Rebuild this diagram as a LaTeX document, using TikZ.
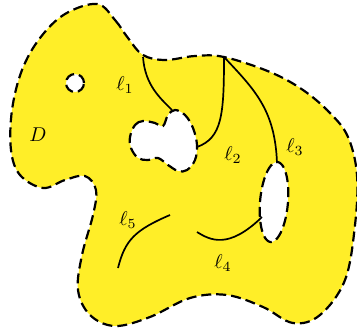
\documentclass[tikz,border=0pt]{standalone}
\definecolor{fillyellow}{RGB}{255,238,40}
\begin{document}
\begin{tikzpicture}[x=0.5pt,y=-0.5pt,
  region/.style={fill=fillyellow, even odd rule, draw=black, line width=1.1pt, dash pattern=on 5pt off 2.5pt},
  curve/.style={draw=black, line width=0.85pt},
  lab/.style={inner sep=0pt, font=\normalsize}]
\useasboundingbox (0,0) rectangle (357,332);
\path[region]
  plot[smooth cycle, tension=0.6] coordinates {
    (97,4) (115,20) (128,38) (143,55) (165,60) (195,56) (224,57)
    (270,72) (303,90) (330,113) (348,137) (357,175) (355,225)
    (345,280) (320,315) (293,323) (263,307) (227,295) (190,298)
    (150,317) (115,326) (90,315) (78,290) (82,255) (93,215)
    (96,190) (85,176) (65,180) (43,188) (20,175) (11,150)
    (12,110) (22,70) (40,38) (65,14)}
  (75,83) circle[radius=4.5pt]
  plot[smooth cycle, tension=0.6] coordinates {
    (130,137) (135,125) (143,121) (155,123) (163,126) (168,115)
    (175,110) (185,115) (193,128) (197,145) (195,160) (187,170)
    (178,171) (168,165) (158,158) (148,160) (138,158) (131,148)}
  plot[domain=0:355, samples=72, variable=\t]
    ({274+14*cos(\t)-3*sin(\t)},{202+40*sin(\t)}) -- cycle;
\coordinate (top) at (224,57);
\coordinate (l1s) at (143,57);
\coordinate (l1e) at (172,110);
\coordinate (l2e) at (197,147);
\coordinate (l3e) at (277,163);
\coordinate (l4s) at (197,232);
\coordinate (l4e) at (262,217);
\coordinate (l5s) at (118,268);
\coordinate (l5e) at (170,215);
\draw[curve] (l1s) .. controls (145,85) and (160,98) .. (l1e);
\draw[curve] (top) .. controls (224,115) and (222,138) .. (l2e);
\draw[curve] (top) .. controls (255,90) and (275,110) .. (l3e);
\draw[curve] (l4s) .. controls (210,240) and (228,250) .. (l4e);
\draw[curve] (l5s) .. controls (125,240) and (135,230) .. (l5e);
\node[lab] (D) at (38,135) {$D$};
\node[lab] (t1) at (125,85) {$\ell_1$};
\node[lab] (t2) at (233,155) {$\ell_2$};
\node[lab] (t3) at (295,147) {$\ell_3$};
\node[lab] (t4) at (223,263) {$\ell_4$};
\node[lab] (t5) at (128,220) {$\ell_5$};
\end{tikzpicture}
\end{document}
